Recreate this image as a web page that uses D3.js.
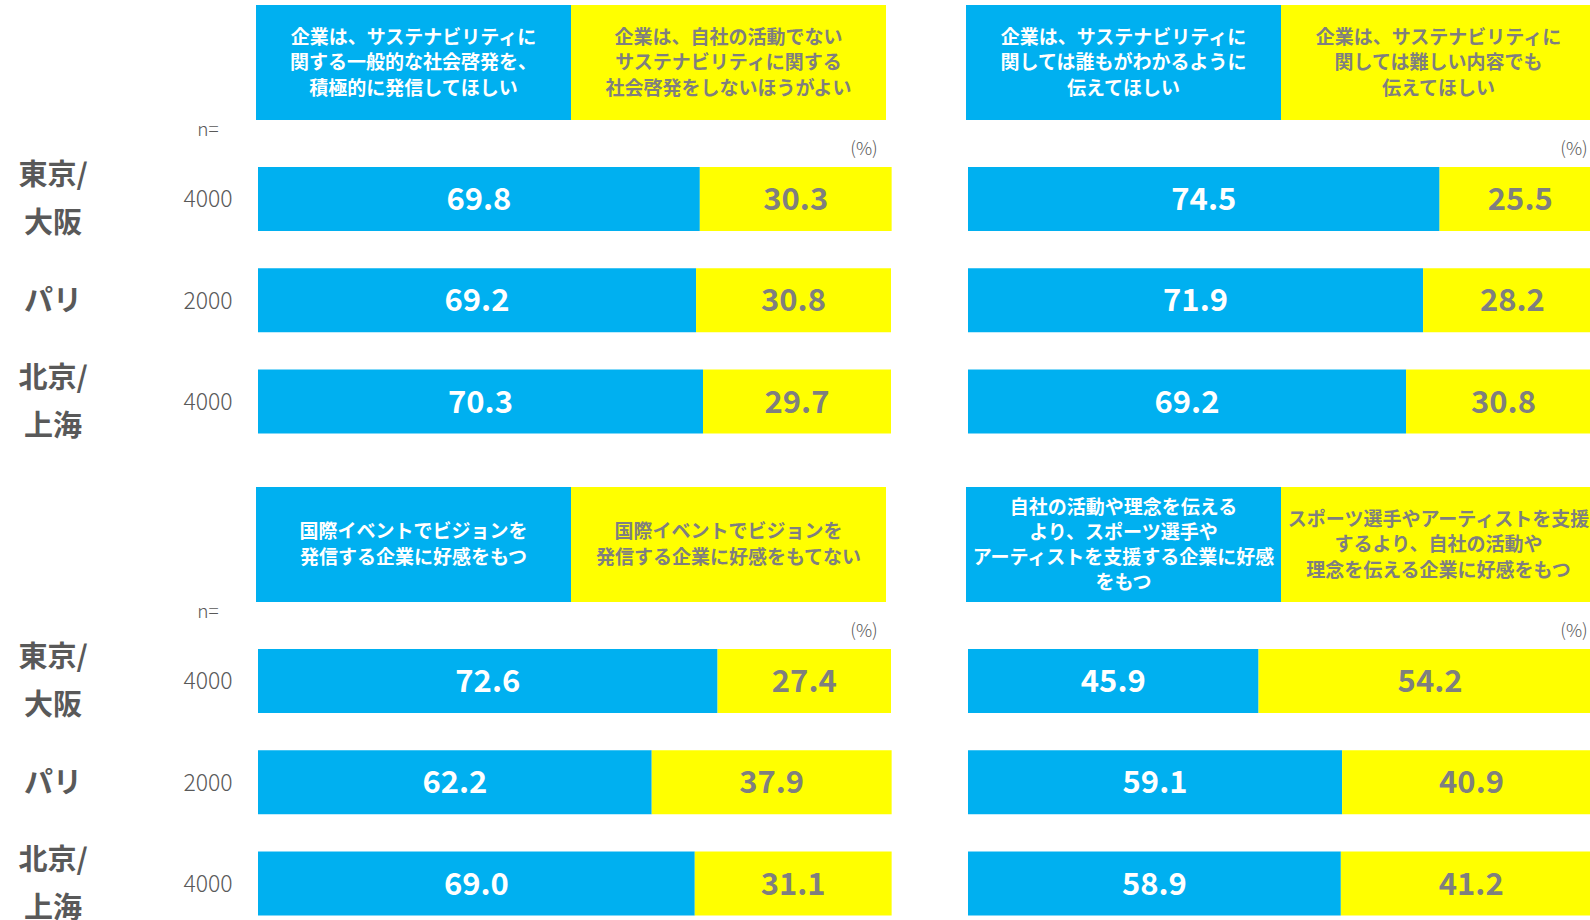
<!DOCTYPE html>
<html>
<head>
<meta charset="utf-8">
<script src="https://cdn.jsdelivr.net/npm/d3@7"></script>
<style>
  body { margin: 0; background: #fff; }
  svg { display: block; font-family: "Noto Sans CJK JP", "Noto Sans", sans-serif; }
</style>
</head>
<body>
<div id="dataviz"></div>
<script>
// rows and sample sizes
var cityLines = [["東京/", "大阪"], ["パリ"], ["北京/", "上海"]];
var cities = ["東京/大阪", "パリ", "北京/上海"];
var sampleN = [4000, 2000, 4000];

// panel headers (blue side, yellow side)
var headA1 = ["企業は、サステナビリティに", "関する一般的な社会啓発を、", "積極的に発信してほしい"];
var headA2 = ["企業は、自社の活動でない", "サステナビリティに関する", "社会啓発をしないほうがよい"];
var headB1 = ["企業は、サステナビリティに", "関しては誰もがわかるように", "伝えてほしい"];
var headB2 = ["企業は、サステナビリティに", "関しては難しい内容でも", "伝えてほしい"];
var headC1 = ["国際イベントでビジョンを", "発信する企業に好感をもつ"];
var headC2 = ["国際イベントでビジョンを", "発信する企業に好感をもてない"];
var headD1 = ["自社の活動や理念を伝える", "より、スポーツ選手や", "アーティストを支援する企業に好感", "をもつ"];
var headD2 = ["スポーツ選手やアーティストを支援", "するより、自社の活動や", "理念を伝える企業に好感をもつ"];

// values (%)
var agreeA = [69.8, 69.2, 70.3], disagreeA = [30.3, 30.8, 29.7];
var agreeB = [74.5, 71.9, 69.2], disagreeB = [25.5, 28.2, 30.8];
var agreeC = [72.6, 62.2, 69.0], disagreeC = [27.4, 37.9, 31.1];
var agreeD = [45.9, 59.1, 58.9], disagreeD = [54.2, 40.9, 41.2];

var blue = "#00b0f0", yellow = "#ffff00", grey = "#7f7f7f", dark = "#595959";

var svg = d3.select("#dataviz")
    .append("svg")
    .attr("width", 1590)
    .attr("height", 920);

var fmt = d3.format(".1f");

var panels = [
    { dx: 0, dy: 0, h1: headA1, h2: headA2, a: agreeA, b: disagreeA, left: true },
    { dx: 710, dy: 0, h1: headB1, h2: headB2, a: agreeB, b: disagreeB, left: false },
    { dx: 0, dy: 482, h1: headC1, h2: headC2, a: agreeC, b: disagreeC, left: true },
    { dx: 710, dy: 482, h1: headD1, h2: headD2, a: agreeD, b: disagreeD, left: false }
];

var x = d3.scaleLinear().domain([0, 100]).range([258, 891]);
var y = d3.scaleBand().domain(cities).range([167, 433.5]).paddingInner(0.368).paddingOuter(0);

function drawHeader(g, lines, x0, w, fill, color) {
    g.append("rect")
        .attr("x", x0).attr("y", 5)
        .attr("width", w).attr("height", 115)
        .attr("fill", fill);
    var lh = lines.length > 3 ? 25 : 25.5;
    var cy = 62.5 - (lines.length - 1) * lh / 2;
    g.append("text")
        .attr("text-anchor", "middle")
        .attr("font-size", "19px")
        .attr("font-weight", "bold")
        .attr("fill", color)
        .selectAll("tspan")
        .data(lines)
        .enter().append("tspan")
        .attr("x", x0 + w / 2)
        .attr("y", function (d, i) { return cy + i * lh; })
        .attr("dy", "0.35em")
        .text(function (d) { return d; });
}

panels.forEach(function (p) {
    var g = svg.append("g")
        .attr("transform", "translate(" + p.dx + "," + p.dy + ")");

    drawHeader(g, p.h1, 256, 315, blue, "#fff");
    drawHeader(g, p.h2, 571, 315, yellow, grey);

    var rows = cities.map(function (c, i) {
        return { city: c, agree: p.a[i], disagree: p.b[i] };
    });
    var stacked = d3.stack().keys(["agree", "disagree"])(rows);
    var colors = { agree: blue, disagree: yellow };
    var labelColors = { agree: "#fff", disagree: grey };

    stacked.forEach(function (layer) {
        var lg = g.append("g");
        lg.selectAll("rect")
            .data(layer)
            .enter().append("rect")
            .attr("x", function (d) { return x(d[0]); })
            .attr("y", function (d) { return y(d.data.city); })
            .attr("width", function (d) { return x(d[1]) - x(d[0]); })
            .attr("height", y.bandwidth())
            .attr("fill", colors[layer.key]);

        lg.selectAll("text")
            .data(layer)
            .enter().append("text")
            .attr("x", function (d) { return x((d[0] + d[1]) / 2); })
            .attr("y", function (d) { return y(d.data.city) + y.bandwidth() / 2; })
            .attr("dy", "0.36em")
            .attr("text-anchor", "middle")
            .attr("font-size", "31px")
            .attr("font-weight", "bold")
            .attr("fill", labelColors[layer.key])
            .text(function (d) { return fmt(d.data[layer.key]); });
    });

    // (%) unit
    g.append("text")
        .attr("x", 864).attr("y", 149)
        .attr("dy", "0.35em")
        .attr("text-anchor", "middle")
        .attr("font-size", "18px")
        .attr("font-weight", 300)
        .attr("fill", dark)
        .text("(%)");

    if (p.left) {
        g.append("text")
            .attr("x", 208).attr("y", 129)
            .attr("dy", "0.35em")
            .attr("text-anchor", "middle")
            .attr("font-size", "19px")
            .attr("font-weight", 300)
            .attr("fill", dark)
            .text("n=");

        g.selectAll(".nval")
            .data(cities)
            .enter().append("text")
            .attr("class", "nval")
            .attr("x", 208)
            .attr("y", function (d) { return y(d) + y.bandwidth() / 2; })
            .attr("dy", "0.36em")
            .attr("text-anchor", "middle")
            .attr("font-size", "23px")
            .attr("font-weight", 300)
            .attr("fill", dark)
            .text(function (d, i) { return sampleN[i]; });

        var cl = g.selectAll(".city")
            .data(cities)
            .enter().append("text")
            .attr("class", "city")
            .attr("text-anchor", "middle")
            .attr("font-size", "29px")
            .attr("font-weight", "bold")
            .attr("fill", dark);
        cl.selectAll("tspan")
            .data(function (d, i) {
                var c = y(d) + y.bandwidth() / 2;
                var ls = cityLines[i];
                return ls.map(function (t, j) {
                    return { t: t, y: c + (j - (ls.length - 1) / 2) * 48 };
                });
            })
            .enter().append("tspan")
            .attr("x", 53)
            .attr("y", function (d) { return d.y; })
            .attr("dy", "0.36em")
            .text(function (d) { return d.t; });
    }
});
</script>
</body>
</html>
